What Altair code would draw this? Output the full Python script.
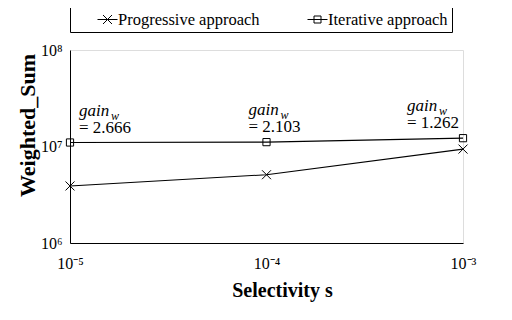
import math
import altair as alt
import pandas as pd

selectivity = [1e-5, 1e-4, 1e-3]
progressive = [3.9e6, 5.1e6, 9.4e6]
iterative = [1.10e7, 1.11e7, 1.22e7]
gain_labels = ["= 2.666", "= 2.103", "= 1.262"]
series_names = ["Progressive approach", "Iterative approach"]
x_ticks = [1e-5, 1e-4, 1e-3]
x_tick_labels = ["10⁻⁵", "10⁻⁴", "10⁻³"]
y_ticks = [1e6, 1e7, 1e8]
y_tick_labels = ["10⁶", "10⁷", "10⁸"]

FONT = "Liberation Serif"
NB = "\u00a0"

rows = []
for s, p, i in zip(selectivity, progressive, iterative):
    rows.append({"s": s, "v": p, "series": series_names[0]})
    rows.append({"s": s, "v": i, "series": series_names[1]})
df = pd.DataFrame(rows)

ann = pd.DataFrame({"s": selectivity, "v": iterative, "g": gain_labels,
                    "idx": list(range(len(selectivity)))})


def label_expr(values, labels):
    expr = f"'{labels[-1]}'"
    for v, l in reversed(list(zip(values[:-1], labels[:-1]))):
        expr = f"abs(log(datum.value)/LN10 - ({math.log10(v)})) < 0.1 ? '{l}' : " + expr
    return expr


x_enc = alt.X("s:Q", scale=alt.Scale(type="log", domain=[1e-5, 1e-3]),
              axis=alt.Axis(values=x_ticks, labelExpr=label_expr(x_ticks, x_tick_labels),
                            title="Selectivity s", titleFont=FONT, titleFontSize=20,
                            titleFontWeight="bold", labelFont=FONT, labelFontSize=16,
                            labelPadding=12, ticks=False, grid=False, domainColor="black",
                            labelColor="black", titleColor="black",
                            titleX=212, titleY=53, titleBaseline="alphabetic",
                            titleAlign="center", labelFlush=False))
y_enc = alt.Y("v:Q", scale=alt.Scale(type="log", domain=[1e6, 1e8]),
              axis=alt.Axis(values=y_ticks, labelExpr=label_expr(y_ticks, y_tick_labels),
                            title="Weighted_Sum", titleFont=FONT, titleFontSize=22,
                            titleFontWeight="bold", labelFont=FONT, labelFontSize=16,
                            labelPadding=8, ticks=False, grid=False, domainColor="black",
                            labelColor="black", titleColor="black",
                            titleX=-43, titleY=75, titleAngle=-90, titleBaseline="middle",
                            titleAlign="center", labelFlush=False))

base = alt.Chart(df)

lines = base.mark_line(color="black", strokeWidth=1.1).encode(
    x=x_enc, y=y_enc, detail="series:N")

points = base.mark_point(filled=False, color="black", size=81, strokeWidth=1, opacity=1).encode(
    x="s:Q", y="v:Q",
    shape=alt.Shape("series:N", scale=alt.Scale(domain=series_names,
                    range=["M-1,-1L1,1M-1,1L1,-1", "M-0.8,-0.8H0.8V0.8H-0.8Z"]), legend=None))

legend_label_expr = (f"datum.label == '{series_names[1]}' ? '{NB * 3}' + datum.label "
                     f": datum.label")

legend_layer = base.transform_filter("false").mark_point(
    filled=False, color="black", strokeWidth=1, opacity=1).encode(
    x="s:Q", y="v:Q",
    shape=alt.Shape("series:N", sort=series_names,
                    scale=alt.Scale(domain=series_names,
                                    range=["M-1,0H1M-0.45,-0.45L0.45,0.45M-0.45,0.45L0.45,-0.45",
                                           "M-1,0H1M-0.35,-0.35H0.35V0.35H-0.35Z"]),
                    legend=alt.Legend(title=None,
                                      orient="none", legendX=0, legendY=-45,
                                      direction="horizontal", labelFont=FONT, labelFontSize=16.5,
                                      labelColor="black", symbolSize=400, symbolStrokeColor="black",
                                      symbolStrokeWidth=1, symbolFillColor="transparent",
                                      symbolOpacity=1,
                                      strokeColor="black", padding=4, symbolOffset=23,
                                      columnPadding=24, labelOffset=0,
                                      labelExpr=legend_label_expr)))

ann_layers = []
dxs = [9, -18, -56]
for k, dx in enumerate(dxs):
    a = alt.Chart(ann).transform_filter(alt.datum.idx == k)
    ann_layers.append(a.mark_text(font=FONT, fontSize=17, fontStyle="italic", align="left",
                                  baseline="alphabetic", dx=dx, dy=-27, color="black").encode(
        x="s:Q", y="v:Q", text=alt.value("gain")))
    ann_layers.append(a.mark_text(font=FONT, fontSize=12, fontStyle="italic", align="left",
                                  baseline="alphabetic", dx=dx + 32, dy=-23, color="black").encode(
        x="s:Q", y="v:Q", text=alt.value("w")))
    ann_layers.append(a.mark_text(font=FONT, fontSize=17, align="left",
                                  baseline="alphabetic", dx=dx, dy=-10, color="black").encode(
        x="s:Q", y="v:Q", text="g:N"))

chart = alt.layer(lines, points, legend_layer, *ann_layers).resolve_scale(
    shape="independent"
).properties(
    width=393, height=193,
    autosize=alt.AutoSizeParams(type="none"),
    padding={"left": 62, "top": 42, "right": 41, "bottom": 69},
).configure_view(stroke="black", strokeWidth=1).configure(background="white")

chart.save("out.html", embed_options={"renderer": "svg", "actions": False})
